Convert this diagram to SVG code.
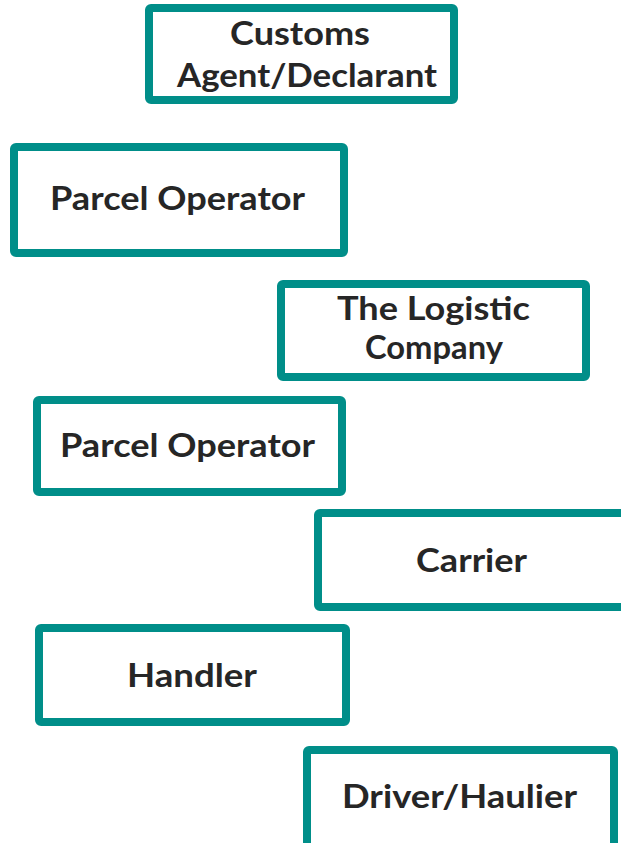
<svg xmlns="http://www.w3.org/2000/svg" width="621" height="843" viewBox="0 0 621 843">
  <style>
    .box { fill: #ffffff; stroke: #008E89; stroke-width: 8; stroke-linejoin: round; }
    .label { font-family: "Lato", "Liberation Sans", sans-serif; font-weight: 700; font-size: 32px; fill: #262626; text-anchor: middle; }
  </style>
  <rect width="621" height="843" fill="#ffffff"/>

  <g id="node-customs-agent">
    <rect class="box" x="149" y="8" width="305" height="92" rx="2"/>
    <text class="label" x="300" y="45" textLength="140" lengthAdjust="spacingAndGlyphs">Customs</text>
    <text class="label" x="307" y="87" textLength="260" lengthAdjust="spacingAndGlyphs">Agent/Declarant</text>
  </g>

  <g id="node-parcel-operator-1">
    <rect class="box" x="14" y="147" width="330" height="106" rx="2"/>
    <text class="label" x="177.5" y="210" textLength="255" lengthAdjust="spacingAndGlyphs">Parcel Operator</text>
  </g>

  <g id="node-logistic-company">
    <rect class="box" x="281" y="284" width="305" height="93" rx="2"/>
    <text class="label" x="433.5" y="320" textLength="193" lengthAdjust="spacingAndGlyphs">The Logistic</text>
    <text class="label" x="434" y="359" textLength="138" lengthAdjust="spacingAndGlyphs">Company</text>
  </g>

  <g id="node-parcel-operator-2">
    <rect class="box" x="37" y="400" width="305" height="92" rx="2"/>
    <text class="label" x="187.5" y="457" textLength="255" lengthAdjust="spacingAndGlyphs">Parcel Operator</text>
  </g>

  <g id="node-carrier">
    <rect class="box" x="318" y="513" width="310" height="94" rx="2"/>
    <text class="label" x="471.5" y="572" textLength="111" lengthAdjust="spacingAndGlyphs">Carrier</text>
  </g>

  <g id="node-handler">
    <rect class="box" x="39" y="628" width="307" height="94" rx="2"/>
    <text class="label" x="192" y="687" textLength="130" lengthAdjust="spacingAndGlyphs">Handler</text>
  </g>

  <g id="node-driver-haulier">
    <rect class="box" x="307" y="750" width="307" height="110" rx="2"/>
    <text class="label" x="459.5" y="808" textLength="235" lengthAdjust="spacingAndGlyphs">Driver/Haulier</text>
  </g>

  <g id="connectors"></g>
</svg>
